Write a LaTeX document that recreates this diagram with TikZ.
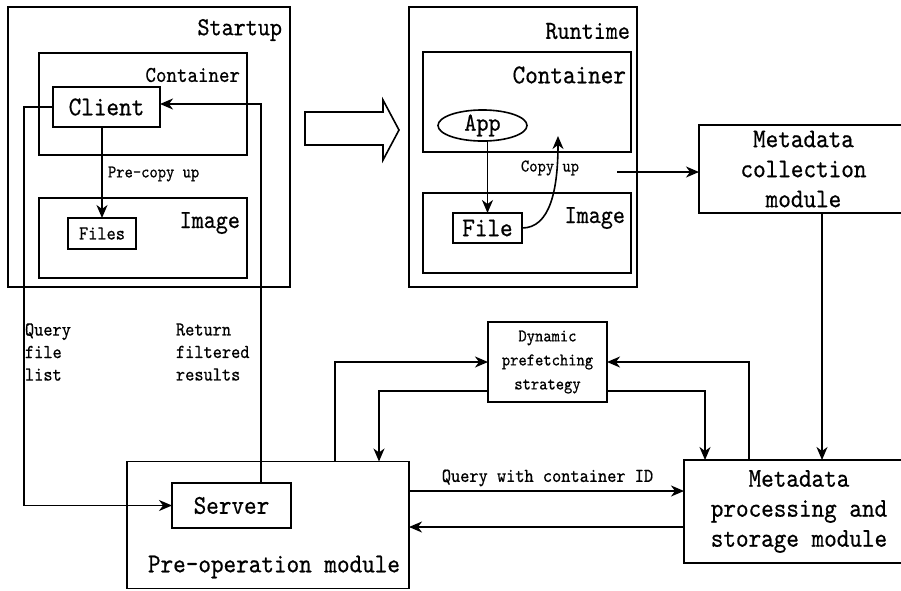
\documentclass[tikz,border=0pt]{standalone}
\usepackage{fontspec}
\usetikzlibrary{arrows.meta,shapes.geometric,calc}
% slightly emboldened typewriter face for all labels
\newfontface\labelfont{lmmono10-regular.otf}[FakeBold=0.6]
% a little vertical stretch for the labels
\newcommand\tall[1]{\scalebox{1}[1.13]{#1}}
\begin{document}
\begin{tikzpicture}[x=1pt,y=-1pt,
  line width=1.6pt,
  every node/.style={inner sep=0pt,outer sep=0pt},
  box/.style={draw,rectangle},
  arr/.style={-{Stealth[length=13pt,width=11pt,inset=4pt]}},
  t24/.style={font=\labelfont\fontsize{24}{30}\selectfont},
  t23/.style={font=\labelfont\fontsize{23}{28}\selectfont},
  t20/.style={font=\labelfont\fontsize{20}{24}\selectfont},
  t17/.style={font=\labelfont\fontsize{17.5}{22.5}\selectfont},
  t16/.style={font=\labelfont\fontsize{15.8}{24}\selectfont}]
\useasboundingbox (0,0) rectangle (901,590);

% ---- Startup stage ----
\node[box,minimum width=282pt,minimum height=280pt] (startup) at (149,147) {};
\node[t23,anchor=east] (startupT) at (282,30) {\tall{Startup}};
\node[box,minimum width=208pt,minimum height=102pt] (cont1) at (143,104) {};
\node[t20,anchor=east] (cont1T) at (240,75) {\tall{Container}};
\node[box,minimum width=107pt,minimum height=40pt,t24] (client) at (106.5,107) {\tall{Client}};
\node[box,minimum width=208pt,minimum height=80pt] (img1) at (143,238) {};
\node[t23,anchor=base east] (img1T) at (240,228) {\tall{Image}};
\node[box,minimum width=68pt,minimum height=31pt,t17] (files) at (102,233.5) {\tall{Files}};
\node[t16,anchor=west] (precopy) at (108,174) {\tall{Pre-copy up}};

% ---- Runtime stage ----
\node[box,minimum width=228pt,minimum height=280pt] (runtime) at (523,147) {};
\node[t23,anchor=east] (runtimeT) at (630,31) {\tall{Runtime}};
\node[box,minimum width=208pt,minimum height=100pt] (cont2) at (527,102) {};
\node[t24,anchor=east] (cont2T) at (626,75) {\tall{Container}};
\node[draw,ellipse,minimum width=89pt,minimum height=31pt,t23] (app) at (482.5,125.5) {\tall{App}};
\node[box,minimum width=208pt,minimum height=80pt] (img2) at (527,233) {};
\node[t23,anchor=base east] (img2T) at (625,223) {\tall{Image}};
\node[box,minimum width=69pt,minimum height=30pt,t24] (file) at (487.5,228) {\tall{File}};
\node[t16] (copyup) at (550,168) {\tall{Copy up}};

% hollow arrow between the two stages
\draw (305,112) -- (383,112) -- (383,100) -- (399,130) -- (383,160) -- (383,145) -- (305,145) -- cycle;

% ---- Modules ----
\node[box,minimum width=209pt,minimum height=88pt,t24,align=center] (collect) at (803.5,169)
  {\tall{Metadata}\\\tall{collection}\\\tall{module}};
\node[box,minimum width=119pt,minimum height=80pt,t16,align=center] (dyn) at (547.5,362)
  {\tall{Dynamic}\\\tall{prefetching}\\\tall{strategy}};
\node[box,minimum width=282pt,minimum height=127pt] (preop) at (268,525) {};
\node[t24] (preopT) at (274,567) {\tall{Pre-operation module}};
\node[box,minimum width=119pt,minimum height=45pt,t24] (server) at (231.5,505.5) {\tall{Server}};
\node[box,minimum width=230pt,minimum height=103pt,t24,align=center] (meta) at (799,511.5)
  {\tall{Metadata}\\\tall{processing and}\\\tall{storage module}};

% edge labels
\node[t17,anchor=west,align=left] (qfl) at (25,352) {\tall{Query}\\\tall{file}\\\tall{list}};
\node[t17,anchor=west,align=left] (rfr) at (176,352) {\tall{Return}\\\tall{filtered}\\\tall{results}};
\node[t17] (qcid) at (547.5,478) {\tall{Query with container ID}};

% helper coordinates for routed connectors
\coordinate (qx) at (24,300);
\coordinate (rx) at (261,300);
\coordinate (cu) at (558,136);
\coordinate (cs) at (617,172);
\coordinate (cx) at (822,300);
\coordinate (p1) at (335,362);
\coordinate (l2) at (379,391);
\coordinate (r2) at (705,391);
\coordinate (r1) at (749,362);
\coordinate (q1) at (500,491);
\coordinate (q2) at (500,527);

% ---- Connectors ----
\draw[arr] (client.west) -- (client.west -| qx) |- (server.west);
\draw[arr] (server.north -| rx) |- ([yshift=3pt]client.east);
\draw[arr] (client.south -| files.north) -- (files.north);
\draw[arr] (app.south -| file.north) -- (file.north);
\draw[arr] (file.east) .. controls (550,228) and (558,190) .. (cu);
\draw[arr] (cs) -- (cs -| collect.west);
\draw[arr] (collect.south -| cx) -- (meta.north -| cx);
\draw[arr] (preop.north -| p1) |- (dyn.west);
\draw[arr] (dyn.west |- l2) -| (preop.north -| l2);
\draw[arr] (dyn.east |- r2) -| (meta.north -| r2);
\draw[arr] (meta.north -| r1) |- (dyn.east);
\draw[arr] (preop.east |- q1) -- (meta.west |- q1);
\draw[arr] (meta.west |- q2) -- (preop.east |- q2);
\end{tikzpicture}
\end{document}
